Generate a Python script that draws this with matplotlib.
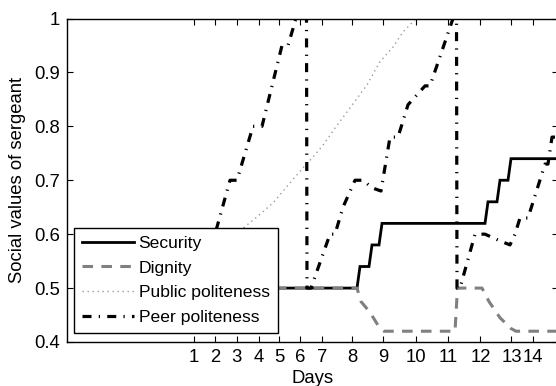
import matplotlib
matplotlib.use("Agg")
import matplotlib.pyplot as plt

plt.rcParams['font.family'] = ['Liberation Sans', 'DejaVu Sans']
plt.rcParams['lines.scale_dashes'] = False

# time axis in simulation steps; day boundaries as ticks
day_ticks = [126.8, 148.3, 169.7, 191.5, 212.3, 233.2, 255.3, 285.3, 316.5, 349.3, 380.8, 413.5, 444.5, 466.3]
day_labels = ['1', '2', '3', '4', '5', '6', '7', '8', '9', '10', '11', '12', '13', '14']

sec_t = [20, 290, 293, 302, 305, 312, 315, 418, 421, 430, 433, 441, 444, 491]
sec_v = [0.5, 0.5, 0.54, 0.54, 0.58, 0.58, 0.62, 0.62, 0.66, 0.66, 0.70, 0.70, 0.74, 0.74]

dig_t = [20, 290, 294, 303, 313, 317, 388, 390.5, 415, 422, 433, 444, 449, 491]
dig_v = [0.5, 0.5, 0.475, 0.455, 0.425, 0.42, 0.42, 0.5, 0.5, 0.475, 0.445, 0.425, 0.42, 0.42]

pub_t = [20, 127, 176, 190, 206, 223, 236, 246, 256, 270, 283, 300, 313, 326, 336, 349, 491]
pub_v = [0.5, 0.5, 0.611, 0.632, 0.658, 0.695, 0.723, 0.743, 0.765, 0.802, 0.834, 0.877, 0.92, 0.947, 0.975, 1.0, 1.0]

peer_t = [20, 133, 151, 163, 170, 186, 195, 215, 221, 229, 239.5, 240, 244, 263, 268, 276, 288, 296, 305, 314,
          323, 331, 341, 358, 363, 386, 389.5, 390, 393, 408, 418, 430, 443, 448, 453, 461, 478, 481, 485, 491]
peer_v = [0.5, 0.5, 0.62, 0.70, 0.70, 0.80, 0.80, 0.95, 0.95, 1.0, 1.0, 0.5, 0.5, 0.60, 0.60, 0.65, 0.70, 0.70,
          0.686, 0.68, 0.78, 0.78, 0.84, 0.875, 0.875, 1.0, 1.0, 0.5, 0.5, 0.60, 0.60, 0.59, 0.58, 0.60, 0.63,
          0.63, 0.73, 0.73, 0.78, 0.78]

fig = plt.figure(figsize=(5.56, 3.86), dpi=100)
ax = fig.add_axes([67/556, 44/386, 491/556, 323.5/386])

ax.plot(sec_t, sec_v, color='black', lw=2.0, solid_joinstyle='miter', label='Security')
ax.plot(dig_t, dig_v, color='#808080', lw=2.2, linestyle=(0, (7.6, 6.0)), dash_capstyle='butt', label='Dignity')
ax.plot(pub_t, pub_v, color='#9a9a9a', lw=1.0, linestyle=(0, (1.0, 2.6)), label='Public politeness')
ax.plot(peer_t, peer_v, color='black', lw=2.3, linestyle=(0, (6.5, 5.2, 0.9, 5.2)), dash_capstyle='butt',
        label='Peer politeness')

ax.set_xlim(0, 491)
ax.set_ylim(0.4, 1.0)
ax.set_xticks(day_ticks)
ax.set_xticklabels(day_labels)
ax.set_yticks([0.4, 0.5, 0.6, 0.7, 0.8, 0.9, 1.0])
ax.set_yticklabels(['0.4', '0.5', '0.6', '0.7', '0.8', '0.9', '1'])
ax.tick_params(direction='in', length=4, width=0.8, top=True, right=True, labelsize=13.3, pad=5)
for s in ax.spines.values():
    s.set_linewidth(1.0)

ax.set_xlabel('Days', fontsize=13.3, labelpad=3)
ax.set_ylabel('Social values of sergeant', fontsize=13.3, labelpad=6)

leg = ax.legend(loc='lower left', bbox_to_anchor=(7/491, 9/323.5), borderaxespad=0, fontsize=12.6,
                frameon=True, fancybox=False, framealpha=1, edgecolor='black', handlelength=2.95,
                handletextpad=0.28, labelspacing=0.54, borderpad=0.46)
leg.get_frame().set_linewidth(1.0)

fig.savefig('out.png', dpi=100)
